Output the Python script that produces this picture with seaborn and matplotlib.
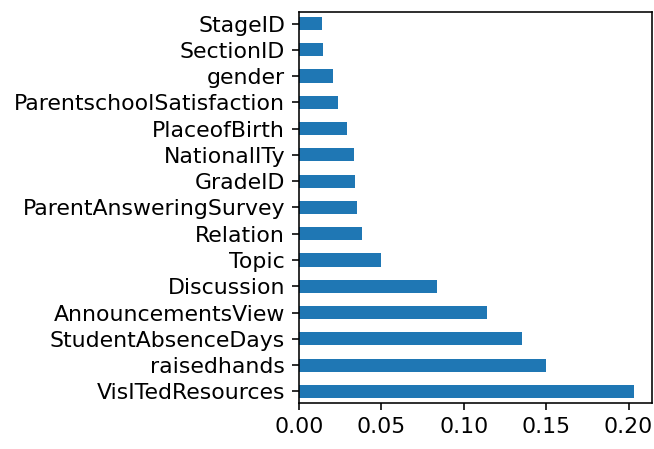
import pandas as pd
import matplotlib
matplotlib.use("Agg")
import matplotlib.pyplot as plt
import seaborn as sns

# Feature importances (top of chart first)
features = [
    "StageID", "SectionID", "gender", "ParentschoolSatisfaction",
    "PlaceofBirth", "NationalITy", "GradeID", "ParentAnsweringSurvey",
    "Relation", "Topic", "Discussion", "AnnouncementsView",
    "StudentAbsenceDays", "raisedhands", "VisITedResources",
]
importances = [
    0.0138, 0.0148, 0.0206, 0.0235,
    0.0293, 0.0332, 0.0342, 0.0352,
    0.0380, 0.0499, 0.0839, 0.1139,
    0.1355, 0.1501, 0.2034,
]

df = pd.DataFrame({"feature": features, "importance": importances})

plt.rcParams["font.size"] = 11

fig = plt.figure(figsize=(654 / 144, 449 / 144), dpi=144)
ax = fig.add_axes([0.4572, 0.1018, 0.9969 - 0.4572, 0.974 - 0.1018])
sns.barplot(
    data=df, x="importance", y="feature", orient="h",
    color="#1f77b4", saturation=1, width=0.5, ax=ax,
)
ax.set_xlabel("")
ax.set_ylabel("")
ax.set_xticks([0.0, 0.05, 0.10, 0.15, 0.20])
ax.set_xticklabels(["0.00", "0.05", "0.10", "0.15", "0.20"])
ax.set_xlim(0, 0.2142)
ax.set_ylim(len(features) - 1 + 0.45, -0.45)
ax.tick_params(labelsize=11)
for s in ax.spines.values():
    s.set_visible(True)

fig.savefig("out.png", dpi=144)
